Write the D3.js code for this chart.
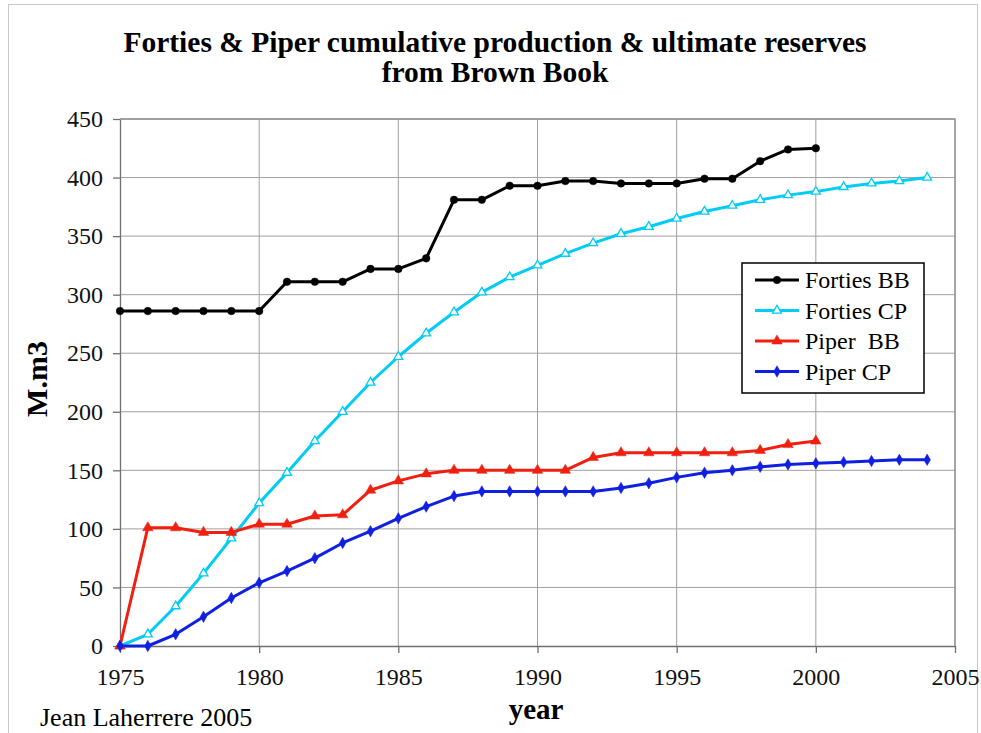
<!DOCTYPE html>
<html>
<head>
<meta charset="utf-8">
<script src="https://cdn.jsdelivr.net/npm/d3@7"></script>
<style>
  body { margin: 0; background: #fff; }
  svg text { font-family: "Liberation Serif", "Times New Roman", serif; }
</style>
</head>
<body>
<svg id="chart" width="981" height="733"></svg>
<script>
// Data (M.m3 by year)
var yearsBB = d3.range(1975, 2001);
var yearsCP = d3.range(1975, 2005);

var fortiesBB = [286, 286, 286, 286, 286, 286, 311, 311, 311, 322, 322, 331, 381, 381, 393, 393,
                 397, 397, 395, 395, 395, 399, 399, 414, 424, 425];
var fortiesCP = [0, 10, 34, 62, 92, 122, 148, 175, 200, 225, 247, 267, 285, 302, 315, 325,
                 335, 344, 352, 358, 365, 371, 376, 381, 385, 388, 392, 395, 397, 400];
var piperBB = [0, 101, 101, 97, 97, 104, 104, 111, 112, 133, 141, 147, 150, 150, 150, 150,
               150, 161, 165, 165, 165, 165, 165, 167, 172, 175];
var piperCP = [0, 0, 10, 25, 41, 54, 64, 75, 88, 98, 109, 119, 128, 132, 132, 132,
               132, 132, 135, 139, 144, 148, 150, 153, 155, 156, 157, 158, 159, 159];

var seriesNames = ["Forties BB", "Forties CP", "Piper  BB", "Piper CP"];
var xTicks = [1975, 1980, 1985, 1990, 1995, 2000, 2005];
var yTicks = [0, 50, 100, 150, 200, 250, 300, 350, 400, 450];

var series = [
  {name: seriesNames[0], years: yearsBB, values: fortiesBB, color: "#000000", marker: "circle"},
  {name: seriesNames[1], years: yearsCP, values: fortiesCP, color: "#00ccf5", marker: "opentri"},
  {name: seriesNames[2], years: yearsBB, values: piperBB, color: "#f02010", marker: "tri"},
  {name: seriesNames[3], years: yearsCP, values: piperCP, color: "#1020e0", marker: "diamond"}
];

var svg = d3.select("#chart");

// Outer frame
svg.append("rect")
   .attr("x", 8.5).attr("y", 4.5)
   .attr("width", 969).attr("height", 740)
   .attr("fill", "none").attr("stroke", "#c8c8c8");

// plot area bounds (not "top": that name is taken by window.top)
var plotL = 120, plotR = 955, plotT = 119, plotB = 646;

var x = d3.scaleLinear().domain([1975, 2005]).range([plotL, plotR]);
var y = d3.scaleLinear().domain([0, 450]).range([plotB, plotT]);

// Gridlines
svg.append("g").selectAll("line")
   .data(yTicks.slice(1))
   .enter().append("line")
     .attr("x1", plotL).attr("x2", plotR)
     .attr("y1", d => y(d)).attr("y2", d => y(d))
     .attr("stroke", "#a0a0a0").attr("stroke-width", 1);

svg.append("g").selectAll("line")
   .data(xTicks.slice(1))
   .enter().append("line")
     .attr("x1", d => x(d)).attr("x2", d => x(d))
     .attr("y1", plotT).attr("y2", plotB)
     .attr("stroke", "#a0a0a0").attr("stroke-width", 1);

// Axes
var xAxis = d3.axisBottom(x).tickValues(xTicks).tickFormat(d3.format("d"))
              .tickSize(7).tickSizeOuter(0).tickPadding(15);
var yAxis = d3.axisLeft(y).tickValues(yTicks)
              .tickSize(7).tickSizeOuter(0).tickPadding(10);

var gx = svg.append("g")
   .attr("transform", "translate(0," + plotB + ")")
   .call(xAxis);
var gy = svg.append("g")
   .attr("transform", "translate(" + plotL + ",0)")
   .call(yAxis);

[gx, gy].forEach(function(g) {
  g.attr("font-family", "Liberation Serif");
  g.selectAll("path, line").attr("stroke", "#707070").attr("stroke-width", 1.3);
  g.selectAll("text").attr("fill", "#111")
   .style("font-size", "24px")
   .style("font-family", "'Liberation Serif', serif");
});

// Series lines and markers
var line = d3.line().x(d => x(d[0])).y(d => y(d[1]));

function markerPath(type) {
  if (type === "circle") return d3.symbol().type(d3.symbolCircle).size(45)();
  if (type === "diamond") return d3.symbol().type(d3.symbolDiamond).size(38)();
  return d3.symbol().type(d3.symbolTriangle).size(type === "tri" ? 48 : 34)();
}

series.forEach(function(s) {
  var pts = s.years.map((yr, i) => [yr, s.values[i]]);
  svg.append("path")
     .datum(pts)
     .attr("d", line)
     .attr("fill", "none")
     .attr("stroke", s.color)
     .attr("stroke-width", 3)
     .attr("stroke-linejoin", "round");
  svg.append("g").selectAll("path")
     .data(pts)
     .enter().append("path")
       .attr("transform", d => "translate(" + x(d[0]) + "," + y(d[1]) + ")")
       .attr("d", markerPath(s.marker))
       .attr("fill", s.marker === "opentri" ? "#ffffff" : s.color)
       .attr("stroke", s.color)
       .attr("stroke-width", s.marker === "opentri" ? 1.3 : 0.5);
});

// Plot area border (top/right)
svg.append("path")
   .attr("d", "M" + plotL + "," + plotT + "H" + plotR + "V" + plotB)
   .attr("fill", "none").attr("stroke", "#909090").attr("stroke-width", 1.3);

// Legend
var legend = svg.append("g").attr("transform", "translate(742,263)");
legend.append("rect")
   .attr("width", 182).attr("height", 130)
   .attr("fill", "#fff").attr("stroke", "#000").attr("stroke-width", 1.5);

series.forEach(function(s, i) {
  var ly = 17 + i * 30.5;
  legend.append("line")
     .attr("x1", 13).attr("x2", 57).attr("y1", ly).attr("y2", ly)
     .attr("stroke", s.color).attr("stroke-width", 3);
  legend.append("path")
     .attr("transform", "translate(35," + ly + ")")
     .attr("d", markerPath(s.marker))
     .attr("fill", s.marker === "opentri" ? "#ffffff" : s.color)
     .attr("stroke", s.color)
     .attr("stroke-width", s.marker === "opentri" ? 1.3 : 0.5);
  legend.append("text")
     .attr("x", 63).attr("y", ly + 8)
     .style("font-size", "24px")
     .style("white-space", "pre")
     .text(s.name);
});

// Title
svg.append("text")
   .attr("x", 495).attr("y", 52)
   .attr("text-anchor", "middle")
   .style("font-size", "29.5px").style("font-weight", "bold")
   .text("Forties & Piper cumulative production & ultimate reserves");
svg.append("text")
   .attr("x", 495).attr("y", 82)
   .attr("text-anchor", "middle")
   .style("font-size", "29.5px").style("font-weight", "bold")
   .text("from Brown Book");

// Axis titles
svg.append("text")
   .attr("transform", "rotate(-90)")
   .attr("x", -379).attr("y", 47)
   .attr("text-anchor", "middle")
   .style("font-size", "30px").style("font-weight", "bold")
   .text("M.m3");

svg.append("text")
   .attr("x", 536).attr("y", 719)
   .attr("text-anchor", "middle")
   .style("font-size", "29px").style("font-weight", "bold")
   .text("year");

// Source note
svg.append("text")
   .attr("x", 40).attr("y", 726)
   .style("font-size", "26px")
   .text("Jean Laherrere 2005");
</script>
</body>
</html>
